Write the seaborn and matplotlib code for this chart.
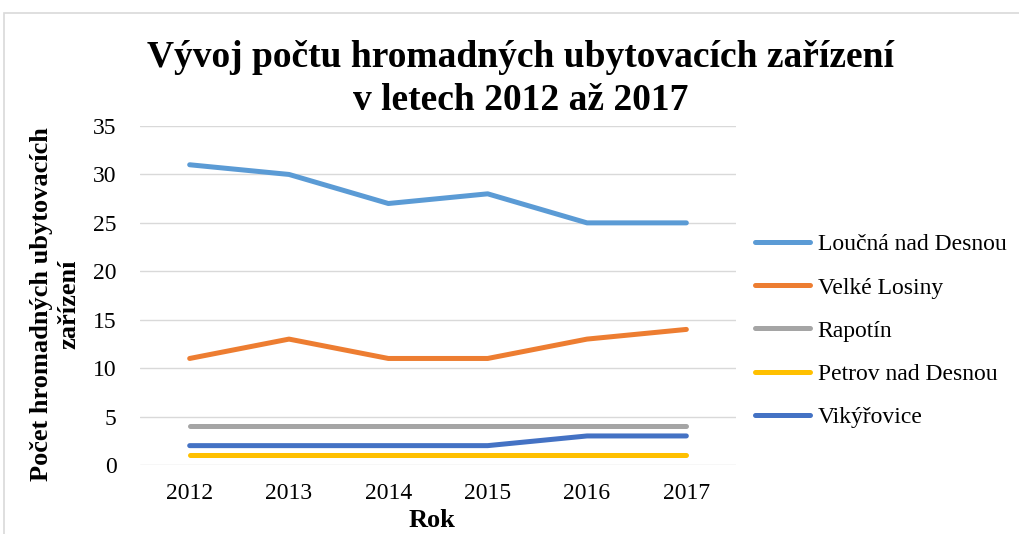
import pandas as pd
import matplotlib.pyplot as plt
import seaborn as sns
from matplotlib.patches import Rectangle

roky = ['2012', '2013', '2014', '2015', '2016', '2017']
obce = ['Loučná nad Desnou', 'Velké Losiny', 'Rapotín', 'Petrov nad Desnou', 'Vikýřovice']
loucna = [31, 30, 27, 28, 25, 25]
losiny = [11, 13, 11, 11, 13, 14]
rapotin = [4, 4, 4, 4, 4, 4]
petrov = [1, 1, 1, 1, 1, 1]
vikyrovice = [2, 2, 2, 2, 3, 3]
barvy = ['#5B9BD5', '#ED7D31', '#A5A5A5', '#FFC000', '#4472C4']

hodnoty = [loucna, losiny, rapotin, petrov, vikyrovice]
dados = pd.DataFrame({
    'Rok': roky * len(obce),
    'Obec': [o for o in obce for _ in roky],
    'Pocet': [v for h in hodnoty for v in h],
})

sns.set_style('white')
plt.rcParams['font.family'] = ['Liberation Serif', 'DejaVu Serif']
plt.rcParams['text.color'] = 'black'

fig = plt.figure(figsize=(10.19, 5.34), dpi=100)
ax = fig.add_axes([0.1374, 0.1292, 0.5849, 0.6348])

sns.lineplot(data=dados, x='Rok', y='Pocet', hue='Obec', hue_order=obce,
             palette=barvy, linewidth=3.6, ax=ax, solid_capstyle='round')

ax.set_ylim(0, 35)
ax.set_xlim(-0.5, 5.5)
ax.set_yticks(range(0, 36, 5))
ax.grid(axis='y', color='#D9D9D9', linewidth=1)
ax.set_axisbelow(True)
for s in ax.spines.values():
    s.set_visible(False)
ax.tick_params(axis='both', length=0, labelsize=17, colors='black')
ax.tick_params(axis='y', pad=17)
ax.tick_params(axis='x', pad=13)
ax.set_xlabel('')
ax.set_ylabel('')

leg = ax.legend(loc='center left', bbox_to_anchor=(755 / 1019, 1 - 331 / 534),
                bbox_transform=fig.transFigure, borderaxespad=0, borderpad=0,
                frameon=False, fontsize=17, handlelength=2.35, handletextpad=0.3,
                labelspacing=0.92)
for line in leg.get_lines():
    line.set_linewidth(3.6)
    line.set_solid_capstyle('round')
for t in leg.get_texts():
    t.set_color('black')

fig.text(0.511, 0.893, 'Vývoj počtu hromadných ubytovacích zařízení', ha='center', va='center',
         fontsize=27, fontweight='bold', color='black')
fig.text(0.511, 0.812, 'v letech 2012 až 2017', ha='center', va='center',
         fontsize=27, fontweight='bold', color='black')
fig.text(0.424, 0.026, 'Rok', ha='center', va='center', fontsize=19, fontweight='bold', color='black')
fig.text(0.054, 0.43, 'Počet hromadných ubytovacích\nzařízení', ha='center', va='center',
         rotation=90, fontsize=19, fontweight='bold', multialignment='center', linespacing=1.25,
         color='black')

fig.patches.append(Rectangle((4 / 1019, -0.1), 1.2, 1 - 13 / 534 + 0.1, transform=fig.transFigure,
                             fill=False, edgecolor='#D9D9D9', linewidth=1.2))

fig.savefig('out.png', dpi=100)
